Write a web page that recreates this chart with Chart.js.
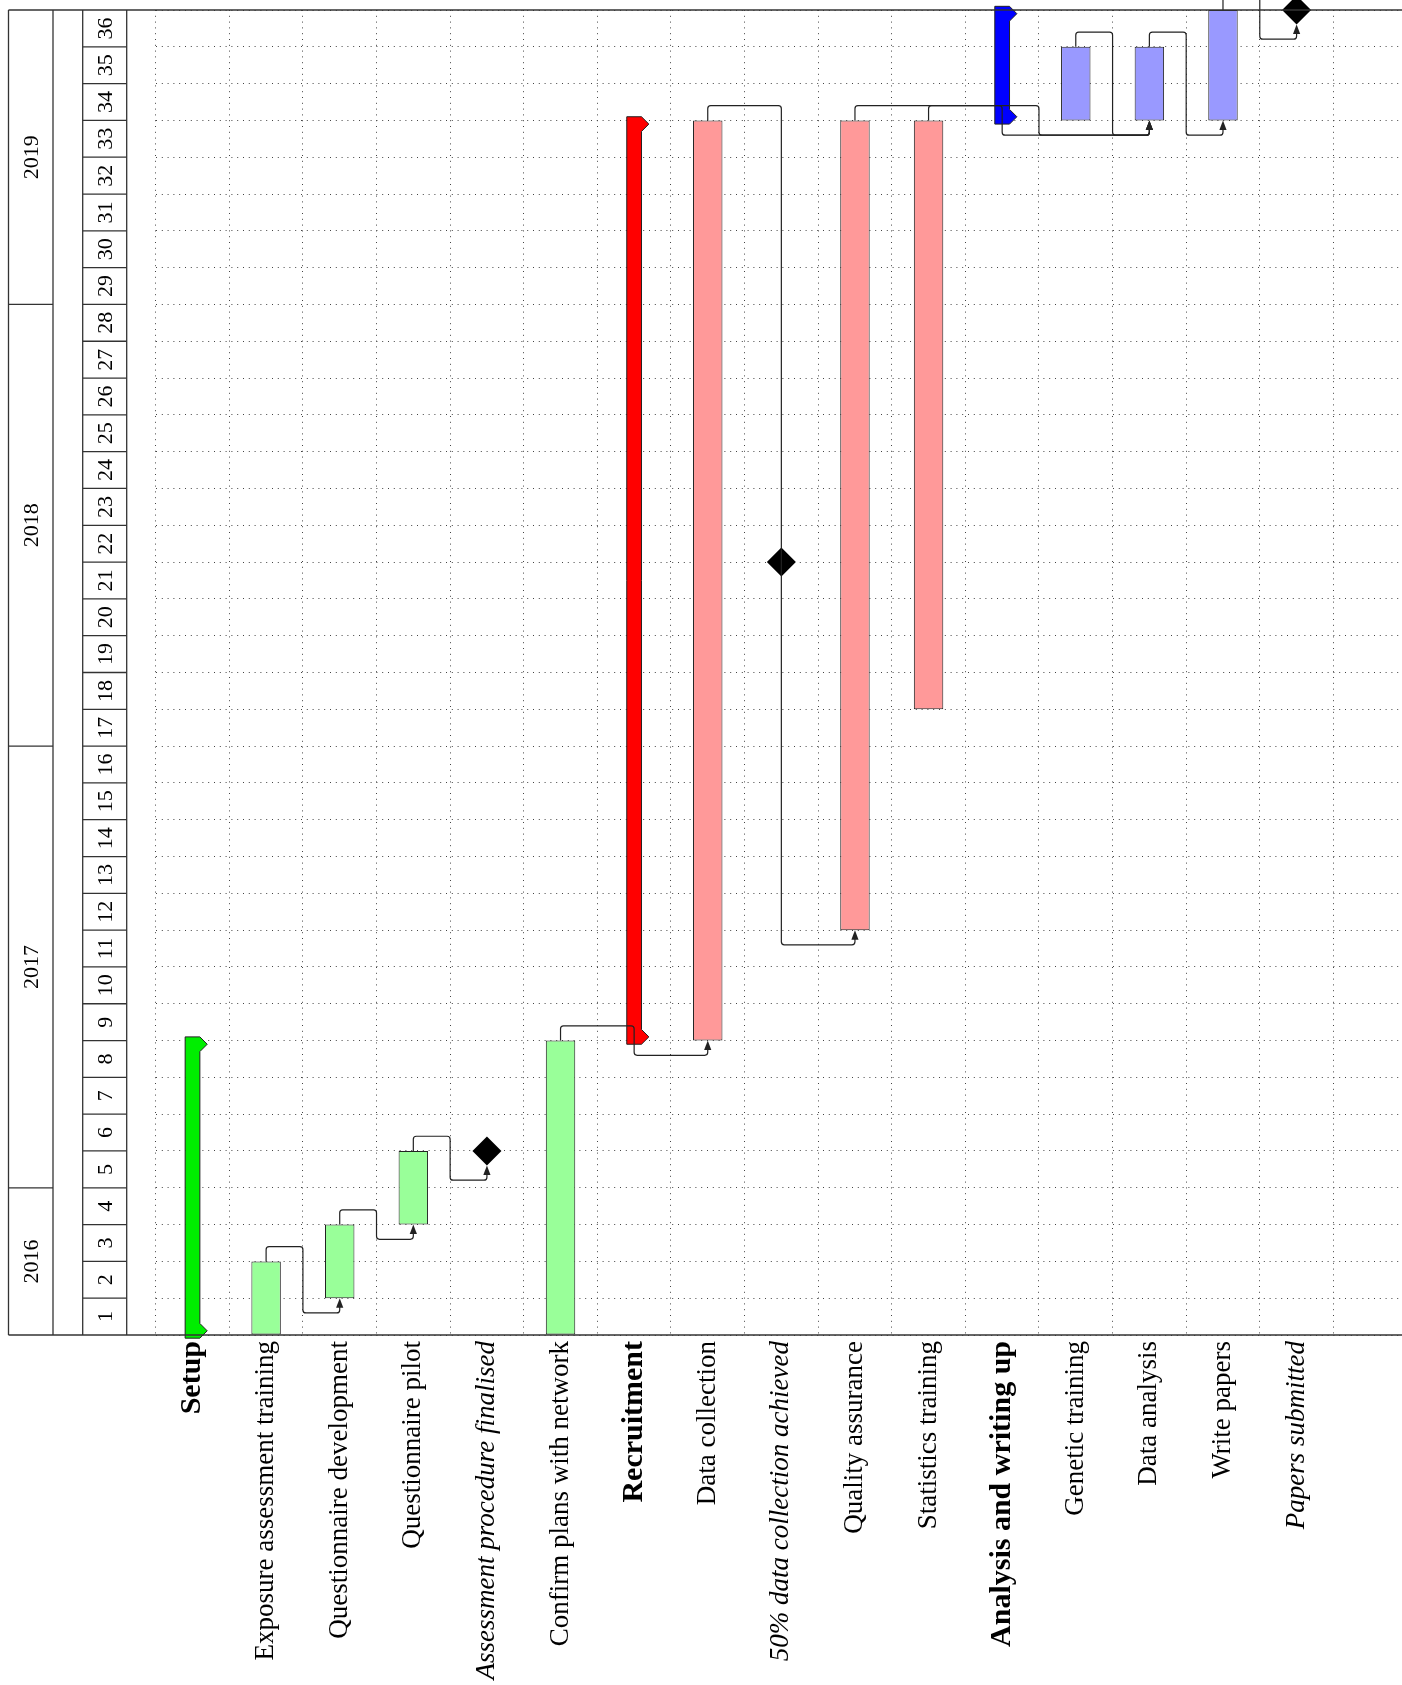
<!DOCTYPE html>
<html>
<head>
<meta charset="utf-8">
<script src="https://cdn.jsdelivr.net/npm/chart.js@4.4.1/dist/chart.umd.min.js"></script>
<style>
  html, body { margin: 0; padding: 0; background: #fff; overflow: hidden; }
  canvas { display: block; }
</style>
</head>
<body>
<canvas id="gantt" width="1407" height="1685"></canvas>
<script>
'use strict';

// rows of the gantt chart, left to right (the chart is turned on its side)
const tasks = [
  'Setup',
  'Exposure assessment training',
  'Questionnaire development',
  'Questionnaire pilot',
  'Assessment procedure finalised',
  'Confirm plans with network',
  'Recruitment',
  'Data collection',
  '50% data collection achieved',
  'Quality assurance',
  'Statistics training',
  'Analysis and writing up',
  'Genetic training',
  'Data analysis',
  'Write papers',
  'Papers submitted'
];
const taskKind = ['group', 'bar', 'bar', 'bar', 'milestone', 'bar',
  'group', 'bar', 'milestone', 'bar', 'bar',
  'group', 'bar', 'bar', 'bar', 'milestone'];
const taskSection = [0, 0, 0, 0, 0, 0, 1, 1, 1, 1, 1, 2, 2, 2, 2, 2];
const taskStart = [1, 1, 2, 4, 5, 1, 9, 9, 21, 12, 18, 34, 34, 34, 34, 36]; // first month
const taskEnd = [8, 2, 3, 5, 5, 8, 33, 33, 21, 33, 33, 36, 35, 35, 36, 36]; // last month

// links [from, to]
const links = [
  ['Exposure assessment training', 'Questionnaire development'],
  ['Questionnaire development', 'Questionnaire pilot'],
  ['Questionnaire pilot', 'Assessment procedure finalised'],
  ['Confirm plans with network', 'Data collection'],
  ['Data collection', 'Quality assurance'],
  ['Quality assurance', 'Data analysis'],
  ['Statistics training', 'Data analysis'],
  ['Genetic training', 'Data analysis'],
  ['Data analysis', 'Write papers'],
  ['Write papers', 'Papers submitted']
];

// calendar on the left
const years = ['2016', '2017', '2018', '2019'];
const yearFirstMonth = [1, 5, 17, 29];
const yearLastMonth = [4, 16, 28, 36];
const monthLabels = ['1', '2', '3', '4', '5', '6', '7', '8', '9', '10', '11', '12',
  '13', '14', '15', '16', '17', '18', '19', '20', '21', '22', '23', '24',
  '25', '26', '27', '28', '29', '30', '31', '32', '33', '34', '35', '36'];

// styles
const serif = "'Liberation Serif', 'DejaVu Serif', serif";
const groupColors = ['#00ee00', '#ff0000', '#0000ff'];
const barColors = ['#99ff99', '#ff9999', '#9999ff'];
const ink = '#222';
const diamond = 14.5;

// helper: rounded polyline
function roundedPath(ctx, pts, rad) {
  ctx.beginPath();
  ctx.moveTo(pts[0][0], pts[0][1]);
  for (let i = 1; i < pts.length - 1; i++) {
    ctx.arcTo(pts[i][0], pts[i][1], pts[i + 1][0], pts[i + 1][1], rad);
  }
  ctx.lineTo(pts[pts.length - 1][0], pts[pts.length - 1][1]);
  ctx.stroke();
}

// group bars with their little peaks, and the links between tasks
const ganttPlugin = {
  id: 'gantt',
  afterDatasetsDraw(chart) {
    const ctx = chart.ctx;
    const x = chart.scales.x, y = chart.scales.y;
    const month = y.getPixelForValue(0) - y.getPixelForValue(1);
    const col = x.getPixelForValue(1) - x.getPixelForValue(0);
    ctx.save();

    // group shapes
    chart.getDatasetMeta(1).data.forEach(function(bar, i) {
      if (taskKind[i] !== 'group') return;
      const p = bar.getProps(['x', 'y', 'base', 'width'], true);
      const l = p.x - p.width / 2, r = p.x + p.width / 2;
      const ext = month * 0.1;
      const top = Math.min(p.y, p.base) - ext;
      const bot = Math.max(p.y, p.base) + ext;
      const pw = month * 0.4, ph = col * 0.1;
      ctx.beginPath();
      ctx.moveTo(l, top);
      ctx.lineTo(r, top);
      ctx.lineTo(r + ph, top + pw / 2);
      ctx.lineTo(r, top + pw);
      ctx.lineTo(r, bot - pw);
      ctx.lineTo(r + ph, bot - pw / 2);
      ctx.lineTo(r, bot);
      ctx.lineTo(l, bot);
      ctx.closePath();
      ctx.fillStyle = groupColors[taskSection[i]];
      ctx.fill();
      ctx.lineWidth = 1;
      ctx.strokeStyle = ink;
      ctx.stroke();
    });

    // links
    const off = month * 0.4;
    ctx.strokeStyle = ink;
    ctx.fillStyle = ink;
    ctx.lineWidth = 1.2;
    links.forEach(function(link) {
      const ia = tasks.indexOf(link[0]), ib = tasks.indexOf(link[1]);
      const xa = x.getPixelForValue(ia), xb = x.getPixelForValue(ib);
      const xm = (xa + xb) / 2;
      const ya = y.getPixelForValue(taskEnd[ia]);
      const yb = taskKind[ib] === 'milestone'
        ? y.getPixelForValue(taskEnd[ib]) + diamond
        : y.getPixelForValue(taskStart[ib] - 1);
      roundedPath(ctx, [[xa, ya], [xa, ya - off], [xm, ya - off],
        [xm, yb + off], [xb, yb + off], [xb, yb + 8]], 3);
      ctx.beginPath();
      ctx.moveTo(xb, yb);
      ctx.lineTo(xb + 3.6, yb + 9.5);
      ctx.lineTo(xb - 3.6, yb + 9.5);
      ctx.closePath();
      ctx.fill();
    });
    ctx.restore();
  }
};

// calendar columns and the frame
const framePlugin = {
  id: 'frame',
  afterDraw(chart) {
    const ctx = chart.ctx;
    const y = chart.scales.y;
    const top = chart.chartArea.top, bottom = chart.chartArea.bottom;
    ctx.save();
    ctx.strokeStyle = '#333';
    ctx.lineWidth = 1.3;
    const line = function(x1, y1, x2, y2) {
      ctx.beginPath(); ctx.moveTo(x1, y1); ctx.lineTo(x2, y2); ctx.stroke();
    };
    line(8.5, top, chart.width, top);
    line(8.5, bottom, chart.width, bottom);
    line(8.5, top, 8.5, bottom);
    line(53, top, 53, bottom);
    line(82.7, top, 82.7, bottom);
    line(126.7, top, 126.7, bottom);
    yearLastMonth.slice(0, -1).forEach(function(m) {
      line(8.5, y.getPixelForValue(m), 53, y.getPixelForValue(m));
    });
    for (let m = 1; m < monthLabels.length; m++) {
      line(82.7, y.getPixelForValue(m), 126.7, y.getPixelForValue(m));
    }
    ctx.fillStyle = '#000';
    ctx.font = '22px ' + serif;
    ctx.textAlign = 'center';
    ctx.textBaseline = 'alphabetic';
    const vtext = function(t, cx, cy) {
      ctx.save();
      ctx.translate(cx, cy);
      ctx.rotate(-Math.PI / 2);
      ctx.fillText(t, 0, 7.7);
      ctx.restore();
    };
    monthLabels.forEach(function(t, i) {
      vtext(t, 104.7, y.getPixelForValue(i + 0.5));
    });
    years.forEach(function(t, i) {
      vtext(t, 30.7, y.getPixelForValue((yearFirstMonth[i] - 1 + yearLastMonth[i]) / 2));
    });
    ctx.restore();
  }
};

const ctx = document.getElementById('gantt').getContext('2d');
/* eslint-disable-next-line no-undef */
new Chart(ctx, {
  data: {
    labels: tasks.concat(['']),
    datasets: [{
      type: 'bar',
      label: 'tasks',
      data: tasks.map((t, i) => taskKind[i] === 'bar' ? [taskStart[i] - 1, taskEnd[i]] : null),
      backgroundColor: tasks.map((t, i) => barColors[taskSection[i]]),
      borderColor: ink,
      borderWidth: 1,
      borderSkipped: false,
      grouped: false,
      barPercentage: 0.4,
      categoryPercentage: 1
    }, {
      type: 'bar',
      label: 'groups',
      data: tasks.map((t, i) => taskKind[i] === 'group' ? [taskStart[i] - 1, taskEnd[i]] : null),
      backgroundColor: 'rgba(0,0,0,0)',
      borderWidth: 0,
      grouped: false,
      barPercentage: 0.2,
      categoryPercentage: 1
    }, {
      type: 'line',
      label: 'milestones',
      data: tasks.map((t, i) => taskKind[i] === 'milestone' ? taskEnd[i] : null),
      showLine: false,
      pointStyle: 'rectRot',
      pointRadius: diamond,
      pointHoverRadius: diamond,
      pointBackgroundColor: '#000',
      pointBorderWidth: 0,
      clip: false
    }]
  },
  options: {
    responsive: false,
    animation: false,
    events: [],
    layout: { autoPadding: false, padding: { top: 10, left: 0, right: 0, bottom: 0 } },
    plugins: { legend: { display: false }, tooltip: { enabled: false } },
    scales: {
      x: {
        type: 'category',
        offset: true,
        grid: { display: true, offset: true, color: '#444', lineWidth: 1, drawTicks: false },
        border: { display: false, dash: [1, 4.8] },
        ticks: {
          autoSkip: false,
          minRotation: 90,
          maxRotation: 90,
          padding: 6,
          color: '#000',
          font: function(c) {
            const kind = taskKind[c.index];
            return {
              family: serif,
              size: kind === 'group' ? 30 : (kind ? 27 : 1),
              weight: kind === 'group' ? 'bold' : 'normal',
              style: kind === 'milestone' ? 'italic' : 'normal'
            };
          }
        },
        afterFit: function(scale) {
          scale.height = 350;
          scale.paddingLeft = 0;
          scale.paddingRight = 0;
        }
      },
      y: {
        type: 'linear',
        min: 0,
        max: 36,
        ticks: { stepSize: 1, display: false, font: { size: 1 } },
        grid: { color: '#444', lineWidth: 1, drawTicks: false },
        border: { display: false, dash: [1, 4.8] },
        afterFit: function(scale) {
          scale.width = 155.7;
          scale.paddingTop = 0;
          scale.paddingBottom = 0;
        }
      }
    }
  },
  plugins: [ganttPlugin, framePlugin]
});
</script>
</body>
</html>
